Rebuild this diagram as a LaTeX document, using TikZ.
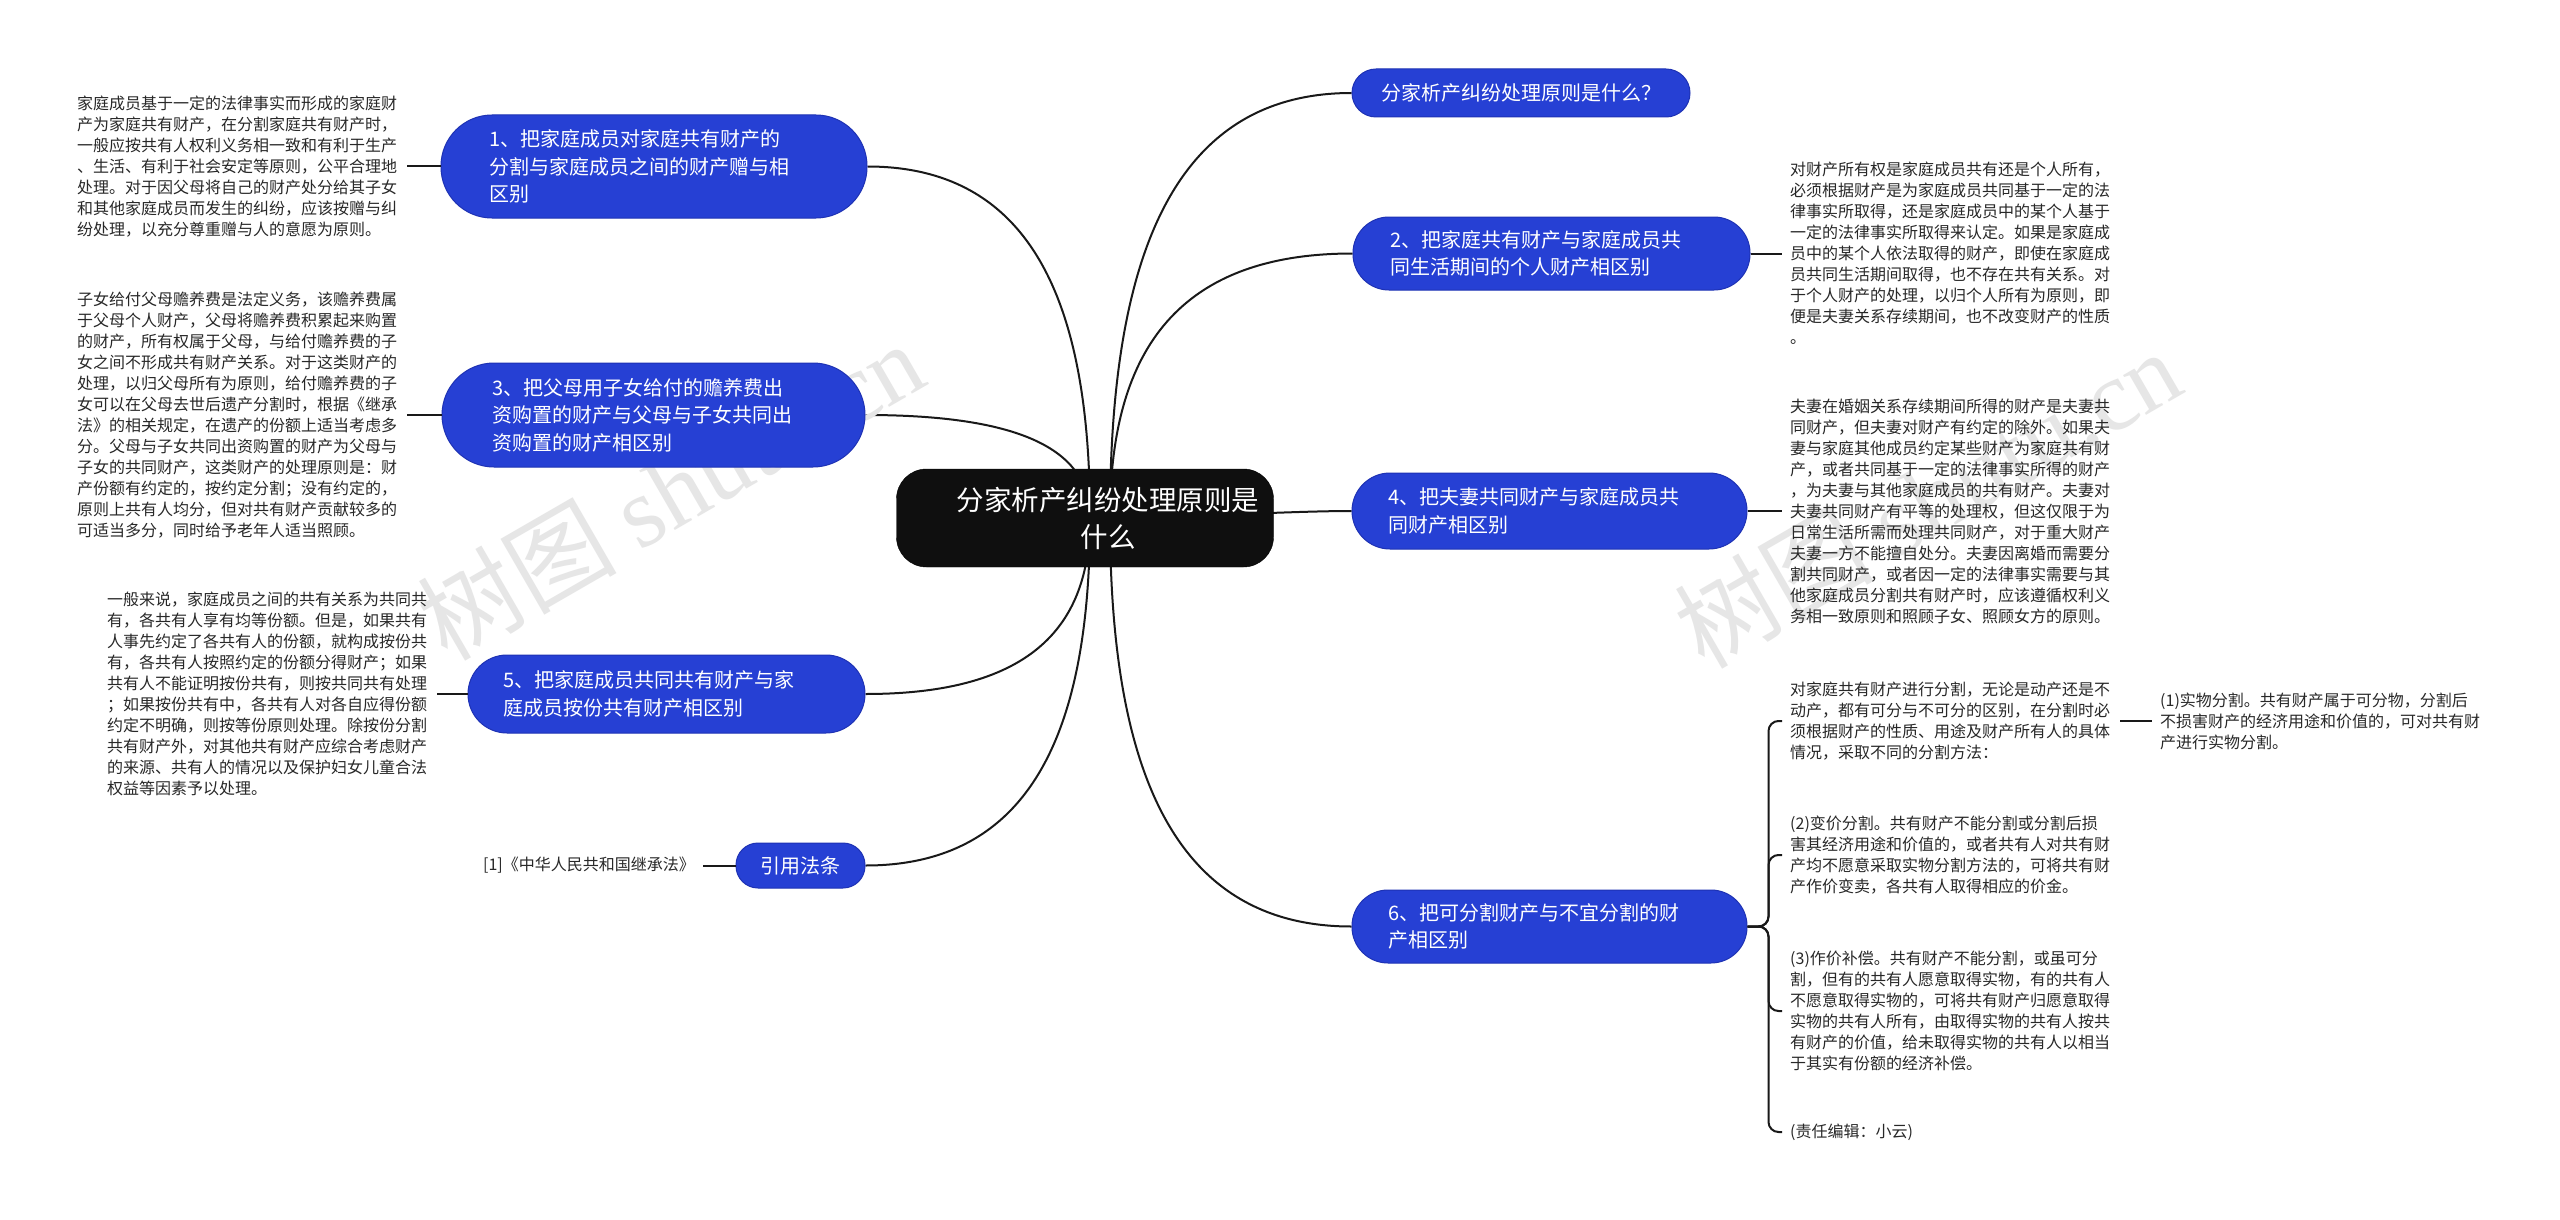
\documentclass[tikz,border=0pt]{standalone}
\usepackage{fontspec}
\setmainfont{Noto Sans CJK SC}
\newfontfamily\wmlatin{Liberation Serif}
\usetikzlibrary{calc}
\definecolor{nodeblue}{RGB}{38,64,212}
\definecolor{nodeedge}{RGB}{30,50,180}
\definecolor{leafgray}{RGB}{40,40,40}
\definecolor{linecol}{RGB}{25,25,25}
\definecolor{wmgray}{RGB}{230,230,230}
\pgfdeclarelayer{background}
\pgfsetlayers{background,main}
\begin{document}
\begin{tikzpicture}[x=1pt,y=-1pt,
  centerbox/.style={rectangle, fill=black!94, draw=black, rounded corners=30pt, text=white, align=center, font=\fontsize{27.5pt}{37pt}\selectfont, minimum width=377pt, minimum height=98pt, inner sep=0pt},
  branchbox/.style={rectangle, fill=nodeblue, draw=nodeedge, line width=1pt, text=white, align=left, font=\fontsize{20pt}{27.5pt}\selectfont, inner ysep=0pt, inner xsep=0pt},
  leaftext/.style={anchor=west, text=leafgray, align=left, font=\fontsize{16pt}{21pt}\selectfont, inner ysep=0pt, inner xsep=8pt},
  conn/.style={draw=linecol, line width=2pt},
  watermark/.style={text=wmgray, rotate=30, font=\fontsize{100pt}{100pt}\selectfont, inner sep=0pt}
]
\useasboundingbox (0,0) rectangle (2560,1220);
\begin{pgfonlayer}{background}
\fill[white] (0,0) rectangle (2560,1220);
\end{pgfonlayer}

% watermarks
\node[watermark] (wm1) at (670,490) {树图 {\wmlatin shutu.cn}};
\node[watermark] (wm2) at (1927,498) {树图 {\wmlatin shutu.cn}};

% center
\node[centerbox] (c) at (1085,518) {\hspace*{46pt}分家析产纠纷处理原则是\\\hspace*{46pt}什么};
\coordinate (sl) at (1090,518);
\coordinate (sr) at (1110,518);

% left branches
\node[branchbox, minimum width=426pt, minimum height=103pt, rounded corners=51pt, text width=330pt] (n1) at (654,166.5) {1、把家庭成员对家庭共有财产的\\分割与家庭成员之间的财产赠与相\\区别};
\node[branchbox, minimum width=423pt, minimum height=104pt, rounded corners=52pt, text width=323pt] (n3) at (653.5,415) {3、把父母用子女给付的赡养费出\\资购置的财产与父母与子女共同出\\资购置的财产相区别};
\node[branchbox, minimum width=397pt, minimum height=78pt, rounded corners=39pt, text width=327pt] (n5) at (666.5,694) {5、把家庭成员共同共有财产与家\\庭成员按份共有财产相区别};
\node[branchbox, align=center, minimum width=129pt, minimum height=45pt, rounded corners=22pt] (cite) at (800.5,865.5) {引用法条};

% right branches
\node[branchbox, align=center, minimum width=338pt, minimum height=48pt, rounded corners=24pt] (q) at (1521,93) {分家析产纠纷处理原则是什么？};
\node[branchbox, minimum width=397pt, minimum height=73pt, rounded corners=36pt, text width=323pt] (n2) at (1551.5,253.5) {2、把家庭共有财产与家庭成员共\\同生活期间的个人财产相区别};
\node[branchbox, minimum width=395pt, minimum height=76pt, rounded corners=38pt, text width=323pt] (n4) at (1549.5,511) {4、把夫妻共同财产与家庭成员共\\同财产相区别};
\node[branchbox, minimum width=395pt, minimum height=73pt, rounded corners=36pt, text width=323pt] (n6) at (1549.5,926.5) {6、把可分割财产与不宜分割的财\\产相区别};

% left leaf texts
\node[leaftext, text width=322pt] (t1) at (69,166.5) {家庭成员基于一定的法律事实而形成的家庭财\\产为家庭共有财产，在分割家庭共有财产时，\\一般应按共有人权利义务相一致和有利于生产\\、生活、有利于社会安定等原则，公平合理地\\处理。对于因父母将自己的财产处分给其子女\\和其他家庭成员而发生的纠纷，应该按赠与纠\\纷处理，以充分尊重赠与人的意愿为原则。};
\node[leaftext, text width=322pt] (t2) at (69,415) {子女给付父母赡养费是法定义务，该赡养费属\\于父母个人财产，父母将赡养费积累起来购置\\的财产，所有权属于父母，与给付赡养费的子\\女之间不形成共有财产关系。对于这类财产的\\处理，以归父母所有为原则，给付赡养费的子\\女可以在父母去世后遗产分割时，根据《继承\\法》的相关规定，在遗产的份额上适当考虑多\\分。父母与子女共同出资购置的财产为父母与\\子女的共同财产，这类财产的处理原则是：财\\产份额有约定的，按约定分割；没有约定的，\\原则上共有人均分，但对共有财产贡献较多的\\可适当多分，同时给予老年人适当照顾。};
\node[leaftext, text width=322pt] (t3) at (99,694) {一般来说，家庭成员之间的共有关系为共同共\\有，各共有人享有均等份额。但是，如果共有\\人事先约定了各共有人的份额，就构成按份共\\有，各共有人按照约定的份额分得财产；如果\\共有人不能证明按份共有，则按共同共有处理\\；如果按份共有中，各共有人对各自应得份额\\约定不明确，则按等份原则处理。除按份分割\\共有财产外，对其他共有财产应综合考虑财产\\的来源、共有人的情况以及保护妇女儿童合法\\权益等因素予以处理。};
\node[leaftext] (ct) at (475,865.5) {[1]《中华人民共和国继承法》};

% right leaf texts
\node[leaftext, text width=330pt] (t2r) at (1782,253.5) {对财产所有权是家庭成员共有还是个人所有，\\必须根据财产是为家庭成员共同基于一定的法\\律事实所取得，还是家庭成员中的某个人基于\\一定的法律事实所取得来认定。如果是家庭成\\员中的某个人依法取得的财产，即使在家庭成\\员共同生活期间取得，也不存在共有关系。对\\于个人财产的处理，以归个人所有为原则，即\\便是夫妻关系存续期间，也不改变财产的性质\\。};
\node[leaftext, text width=330pt] (t4r) at (1782,511) {夫妻在婚姻关系存续期间所得的财产是夫妻共\\同财产，但夫妻对财产有约定的除外。如果夫\\妻与家庭其他成员约定某些财产为家庭共有财\\产，或者共同基于一定的法律事实所得的财产\\，为夫妻与其他家庭成员的共有财产。夫妻对\\夫妻共同财产有平等的处理权，但这仅限于为\\日常生活所需而处理共同财产，对于重大财产\\夫妻一方不能擅自处分。夫妻因离婚而需要分\\割共同财产，或者因一定的法律事实需要与其\\他家庭成员分割共有财产时，应该遵循权利义\\务相一致原则和照顾子女、照顾女方的原则。};
\node[leaftext, text width=322pt] (k1) at (1782,721) {对家庭共有财产进行分割，无论是动产还是不\\动产，都有可分与不可分的区别，在分割时必\\须根据财产的性质、用途及财产所有人的具体\\情况，采取不同的分割方法：};
\node[leaftext, text width=330pt] (k11) at (2152,721) {(1)实物分割。共有财产属于可分物，分割后\\不损害财产的经济用途和价值的，可对共有财\\产进行实物分割。};
\node[leaftext, text width=330pt] (k2) at (1782,855) {(2)变价分割。共有财产不能分割或分割后损\\害其经济用途和价值的，或者共有人对共有财\\产均不愿意采取实物分割方法的，可将共有财\\产作价变卖，各共有人取得相应的价金。};
\node[leaftext, text width=330pt] (k3) at (1782,1011) {(3)作价补偿。共有财产不能分割，或虽可分\\割，但有的共有人愿意取得实物，有的共有人\\不愿意取得实物的，可将共有财产归愿意取得\\实物的共有人所有，由取得实物的共有人按共\\有财产的价值，给未取得实物的共有人以相当\\于其实有份额的经济补偿。};
\node[leaftext] (k4) at (1782,1132) {(责任编辑：小云)};

\begin{pgfonlayer}{background}
% center connectors
\draw[conn] (sr) .. controls (1110,263) and (1170,93) .. (q.west);
\draw[conn] (sr) .. controls (1110,359) and (1171,253.5) .. (n2.west);
\draw[conn] (sr) .. controls (1170,518) and (1290,511) .. (n4.west);
\draw[conn] (sr) .. controls (1110,763) and (1170,926.5) .. (n6.west);
\draw[conn] (sl) .. controls (1090,307) and (1034,166.5) .. (n1.east);
\draw[conn] (sl) .. controls (1090,456) and (1034,415) .. (n3.east);
\draw[conn] (sl) .. controls (1090,624) and (1034,694) .. (n5.east);
\draw[conn] (sl) .. controls (1090,726) and (1034,865.5) .. (cite.east);
\end{pgfonlayer}

% leaf connectors
\draw[conn] (t1.east) -- (n1.west);
\draw[conn] (t2.east) -- (n3.west);
\draw[conn] (t3.east) -- (n5.west);
\draw[conn] (ct.east) -- (cite.west);
\draw[conn] (n2.east) -- (t2r.west);
\draw[conn] (n4.east) -- (t4r.west);
\draw[conn] (k1.east) -- (k11.west);
\foreach \k in {k1,k2,k3,k4}{
  \draw[conn, rounded corners=10pt] (n6.east) -- ++(21,0) |- (\k.west);
}
\end{tikzpicture}
\end{document}
